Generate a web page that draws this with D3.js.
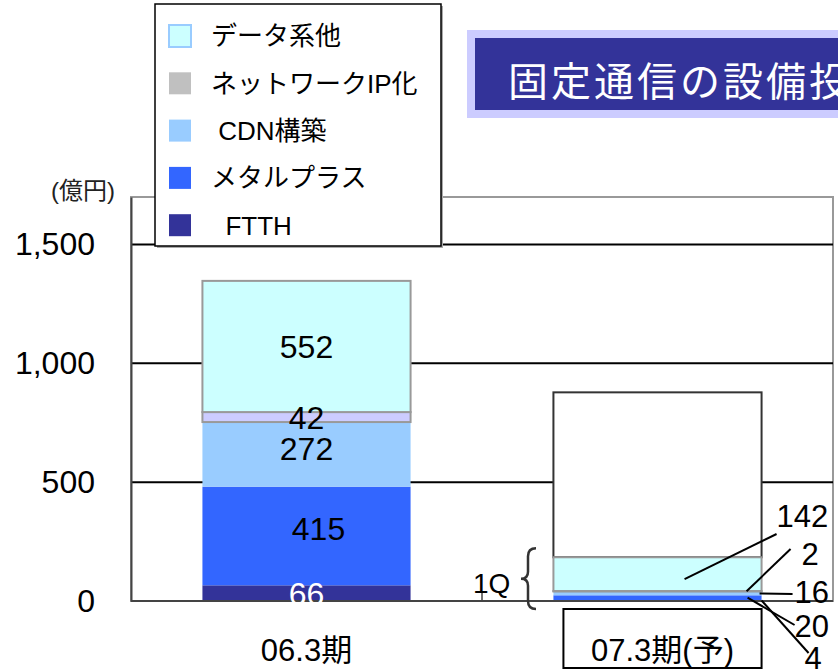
<!DOCTYPE html>
<html>
<head>
<meta charset="utf-8">
<title>固定通信の設備投資</title>
<style>
  body { margin: 0; background: #fff; }
  text { font-family: "Liberation Sans", Arial, "Noto Sans CJK JP", sans-serif; }
</style>
</head>
<body>
<script src="https://cdn.jsdelivr.net/npm/d3@7"></script>
<script>

// data (億円)
var categories = ["06.3期", "07.3期(予)"];
var seriesNames = ["FTTH", "メタルプラス", "CDN構築", "ネットワークIP化", "データ系他"];
var ftth = [66, 4];
var metalPlus = [415, 20];
var cdn = [272, 16];
var networkIP = [42, 2];
var dataOther = [552, 142];
var fullYear = [null, 878];   // 07.3 forecast outline box
var yTicks = [0, 500, 1000, 1500];

var colors = ["#333399", "#3366FF", "#99CCFF", "#CCCCFF", "#CCFFFF"];
var legendColors = ["#333399", "#3366FF", "#99CCFF", "#C0C0C0", "#CCFFFF"];

var width = 838, height = 670;
var plot = {left: 131, right: 833, top: 197, bottom: 601};

var svg = d3.select("body").append("svg")
    .attr("width", width)
    .attr("height", height);

var x = d3.scaleBand()
    .domain(categories)
    .range([plot.left, plot.right])
    .paddingInner(0.407)
    .paddingOuter(0.2035);

var y = d3.scaleLinear()
    .domain([0, 1700])
    .range([plot.bottom, plot.top]);

// table for the stack
var table = categories.map(function(c, i) {
    return {cat: c, "FTTH": ftth[i], "メタルプラス": metalPlus[i], "CDN構築": cdn[i],
            "ネットワークIP化": networkIP[i], "データ系他": dataOther[i]};
});
var stacked = d3.stack().keys(seriesNames)(table);

// plot frame
svg.append("rect")
    .attr("x", plot.left).attr("y", plot.top)
    .attr("width", plot.right - plot.left).attr("height", plot.bottom - plot.top)
    .attr("fill", "none").attr("stroke", "#999").attr("stroke-width", 2);

// gridlines
svg.append("g").selectAll("line")
    .data(yTicks.filter(function(d) { return d > 0; }))
    .enter().append("line")
    .attr("x1", plot.left).attr("x2", plot.right)
    .attr("y1", function(d) { return y(d); }).attr("y2", function(d) { return y(d); })
    .attr("stroke", "#000").attr("stroke-width", 2);

// y axis
var yAxis = d3.axisLeft(y).tickValues(yTicks).tickFormat(d3.format(",")).tickSize(0).tickPadding(36);
var yg = svg.append("g")
    .attr("transform", "translate(" + plot.left + ",0)")
    .call(yAxis);
yg.select(".domain").attr("stroke", "#444").attr("stroke-width", 2);
yg.selectAll("text").attr("font-size", 32).attr("fill", "#000")
    .style("font-family", "'Liberation Sans', Arial, sans-serif");

svg.append("text")
    .attr("x", 83).attr("y", 199)
    .attr("text-anchor", "middle")
    .attr("font-size", 24)
    .attr("fill", "#222")
    .text("(億円)");

// forecast outline (rest of year on top of 1Q)
svg.append("g").selectAll("rect")
    .data(categories.map(function(c, i) { return {cat: c, total: fullYear[i], top: stacked[4][i][1]}; })
        .filter(function(d) { return d.total != null; }))
    .enter().append("rect")
    .attr("x", function(d) { return x(d.cat); })
    .attr("width", x.bandwidth())
    .attr("y", function(d) { return y(d.total); })
    .attr("height", function(d) { return y(d.top) - y(d.total); })
    .attr("fill", "#fff").attr("stroke", "#333").attr("stroke-width", 2);

// stacked bars
var layer = svg.append("g").selectAll("g")
    .data(stacked)
    .enter().append("g")
    .attr("fill", function(d, i) { return colors[i]; });

layer.selectAll("rect")
    .data(function(d) { return d.map(function(p) { p.key = d.key; return p; }); })
    .enter().append("rect")
    .attr("x", function(d) { return x(d.data.cat); })
    .attr("width", x.bandwidth())
    .attr("y", function(d) { return y(d[1]); })
    .attr("height", function(d) { return y(d[0]) - y(d[1]); })
    .attr("stroke", function(d) { return (d.key === "データ系他" || d.key === "ネットワークIP化") ? "#999" : "none"; })
    .attr("stroke-width", 2);

// x axis line and category boundary tick
svg.append("line")
    .attr("x1", plot.left).attr("x2", plot.right)
    .attr("y1", plot.bottom).attr("y2", plot.bottom)
    .attr("stroke", "#444").attr("stroke-width", 2);
svg.append("line")
    .attr("x1", plot.left + x.step()).attr("x2", plot.left + x.step())
    .attr("y1", plot.bottom).attr("y2", plot.bottom - 8)
    .attr("stroke", "#444").attr("stroke-width", 1.5);

// values inside first bar
svg.append("g").selectAll("text")
    .data(stacked.map(function(s, i) { return {key: s.key, p: s[0], i: i}; }))
    .enter().append("text")
    .attr("x", function(d) { return x(categories[0]) + x.bandwidth() / 2 + (d.i === 1 ? 12 : 0); })
    .attr("y", function(d) { return y((d.p[0] + d.p[1]) / 2) + (d.i === 2 ? -6 : d.i === 1 ? -8 : 0); })
    .attr("dy", "0.36em")
    .attr("text-anchor", "middle")
    .attr("font-size", 32)
    .attr("fill", function(d) { return d.i === 0 ? "#fff" : "#000"; })
    .text(function(d) { return d.p[1] - d.p[0]; });

// leader labels for the 07.3 1Q bar (offsets from bar right edge)
var leaders = [
    {i: 4, sx: -77, ex: 15, ey: 534, lx: 15, ly: 527},
    {i: 3, sx: -15, ex: 29, ey: 549, lx: 40, ly: 565},
    {i: 2, sx: -2,  ex: 31, ey: 594, lx: 33, ly: 603},
    {i: 1, sx: -14, ex: 33, ey: 625, lx: 33, ly: 637},
    {i: 0, sx: 0,   ex: 47, ey: 653, lx: 43, ly: 669}
];
var bx = x(categories[1]) + x.bandwidth();
var lg = svg.append("g");
leaders.forEach(function(l) {
    var p = stacked[l.i][1];
    var sy = l.i === 4 ? y((p[0] + p[1]) / 2) + 5 : y((p[0] + p[1]) / 2);
    lg.append("line")
        .attr("x1", bx + l.sx).attr("y1", sy)
        .attr("x2", bx + l.ex).attr("y2", l.ey)
        .attr("stroke", "#000").attr("stroke-width", 2);
    lg.append("text")
        .attr("x", bx + l.lx).attr("y", l.ly)
        .attr("font-size", 31)
        .text(p[1] - p[0]);
});

// 1Q brace
var bTop = y(stacked[4][1][1]) - 9, bBot = plot.bottom + 8, bMid = (bTop + bBot) / 2, bX = 528;
svg.append("path")
    .attr("d", "M" + (bX + 8) + "," + bTop + " Q" + bX + "," + bTop + " " + bX + "," + (bTop + 8) +
        " L" + bX + "," + (bMid - 7) + " Q" + bX + "," + bMid + " " + (bX - 7) + "," + bMid +
        " Q" + bX + "," + bMid + " " + bX + "," + (bMid + 7) +
        " L" + bX + "," + (bBot - 8) + " Q" + bX + "," + bBot + " " + (bX + 8) + "," + bBot)
    .attr("fill", "none").attr("stroke", "#333").attr("stroke-width", 2.5);
svg.append("text")
    .attr("x", 473).attr("y", 593)
    .attr("font-size", 28)
    .text("1Q");

// category labels
svg.append("rect")
    .attr("x", x(categories[1]) + 10).attr("y", 609)
    .attr("width", x.bandwidth() - 10).attr("height", 59)
    .attr("fill", "#fff").attr("stroke", "#000").attr("stroke-width", 2);
svg.append("g").selectAll("text")
    .data(categories)
    .enter().append("text")
    .attr("x", function(d, i) { return x(d) + x.bandwidth() / 2 + (i === 1 ? 5 : 0); })
    .attr("y", 661)
    .attr("text-anchor", "middle")
    .attr("font-size", 31)
    .text(function(d) { return d; });

// legend
var legend = svg.append("g").attr("transform", "translate(155,4)");
legend.append("rect")
    .attr("x", 2).attr("y", 2).attr("width", 286).attr("height", 242)
    .attr("fill", "#aaa");
legend.append("rect")
    .attr("width", 286).attr("height", 242)
    .attr("fill", "#fff").attr("stroke", "#000").attr("stroke-width", 1.5);
var legendNames = seriesNames.slice().reverse();
var legendLabels = ["データ系他", "ネットワークIP化", " CDN構築", "メタルプラス", "  FTTH"];
legendNames.forEach(function(name, j) {
    var k = seriesNames.indexOf(name);
    var row = legend.append("g").attr("transform", "translate(14," + (32 + j * 47.3) + ")");
    row.append("rect")
        .attr("x", 0).attr("y", -11).attr("width", 22).attr("height", 22)
        .attr("fill", legendColors[k])
        .attr("stroke", name === "データ系他" ? "#99CCFF" : "none")
        .attr("stroke-width", 2);
    row.append("text")
        .attr("x", 42).attr("y", 0).attr("dy", "0.36em")
        .attr("font-size", 26)
        .style("white-space", "pre")
        .text(legendLabels[j]);
});

// title banner (cut at the right edge)
svg.append("rect").attr("x", 467).attr("y", 30).attr("width", 400).attr("height", 88).attr("fill", "#CCCCFF");
svg.append("rect").attr("x", 475).attr("y", 38).attr("width", 400).attr("height", 72).attr("fill", "#333399");
svg.append("text")
    .attr("x", 508).attr("y", 96)
    .attr("font-size", 40)
    .attr("letter-spacing", 3)
    .attr("fill", "#fff")
    .style("font-family", "'Noto Sans CJK JP', sans-serif")
    .text("固定通信の設備投資");

</script>
</body>
</html>
